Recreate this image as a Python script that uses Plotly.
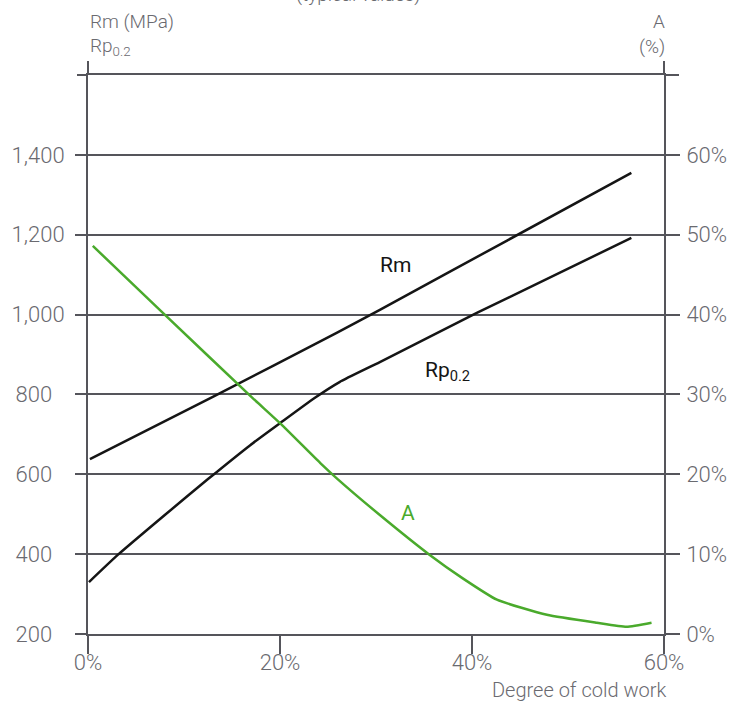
import plotly.graph_objects as go

# ---- data ----
rm_x = [0.2, 13, 25.9, 30.4, 43.7, 56.6]
rm_y = [638, 794, 954, 1012, 1186, 1355]

rp_x = [0.1, 3.1, 8.0, 12.5, 16.9, 20.0, 23.6, 26.2, 30.4, 40.5, 56.6]
rp_y = [330, 398, 498, 588, 673, 728, 791, 831, 881, 1004, 1192]

a_x = [0.5, 7.8, 17.1, 20.0, 24.2, 26.0, 30.4, 35.6, 39.0, 42.6, 47.8, 53.0, 56.1, 58.7]
a_y = [48.6, 40.2, 29.6, 26.4, 21.4, 19.4, 14.9, 9.9, 7.0, 4.3, 2.4, 1.4, 0.9, 1.4]

x_ticks = [0, 20, 40, 60]
x_labels = ["0%", "20%", "40%", "60%"]
y_ticks = [200, 400, 600, 800, 1000, 1200, 1400]
y_labels = ["200", "400", "600", "800", "1,000", "1,200", "1,400"]
y2_ticks = [0, 10, 20, 30, 40, 50, 60]
y2_labels = ["0%", "10%", "20%", "30%", "40%", "50%", "60%"]

LINE = "#55555b"
TXT = "#6a6a70"
GREEN = "#4aaa2c"
BLACK = "#151515"
FONT = "Roboto"

W, H = 729, 705
PL, PR, PT, PB = 88, 664, 75, 634          # plot box in page pixels
PW, PH = PR - PL, PB - PT

def py(p):
    return 1 + (PT - p) / PH

def px(p):
    return (p - PL) / PW

# the reference centres its left tick labels: pad the short ones on the right
FS = "\u2007"   # figure space (digit width)
y_text = [t if len(t) > 3 else t + FS for t in y_labels]

fig = go.Figure()
fig.add_trace(go.Scatter(x=rm_x, y=rm_y, mode="lines", line=dict(color=BLACK, width=2.5, shape="spline", smoothing=0.3),
                         hoverinfo="skip", showlegend=False))
fig.add_trace(go.Scatter(x=rp_x, y=rp_y, mode="lines", line=dict(color=BLACK, width=2.5, shape="spline", smoothing=0.5),
                         hoverinfo="skip", showlegend=False))
fig.add_trace(go.Scatter(x=a_x, y=a_y, mode="lines", yaxis="y2", line=dict(color=GREEN, width=2.5, shape="spline", smoothing=0.5),
                         hoverinfo="skip", showlegend=False))

tickfont = dict(family=FONT, size=22, color=TXT, weight=300)

fig.update_layout(
    width=W, height=H,
    margin=dict(l=PL, r=W - PR, t=PT, b=H - PB, autoexpand=False),
    paper_bgcolor="white", plot_bgcolor="white",
    xaxis=dict(range=[0, 60], tickvals=x_ticks, ticktext=x_labels, ticks="outside", ticklen=18,
               tickwidth=2, tickcolor=LINE, showgrid=False, zeroline=False, showline=True,
               linecolor=LINE, linewidth=2, mirror=True, tickfont=tickfont, ticklabelstandoff=-10),
    yaxis=dict(range=[200, 1600], tickvals=y_ticks, ticktext=y_text, ticks="outside", ticklen=11,
               tickwidth=2, tickcolor=LINE, showgrid=True, gridcolor=LINE, gridwidth=2, zeroline=False,
               showline=True, linecolor=LINE, linewidth=2, mirror=True, tickfont=tickfont,
               ticklabelstandoff=6),
    yaxis2=dict(range=[0, 70], tickvals=y2_ticks, ticktext=y2_labels, overlaying="y", side="right",
                ticks="outside", ticklen=15, tickwidth=2, tickcolor=LINE, showgrid=False, zeroline=False,
                showline=False, tickfont=tickfont, ticklabelstandoff=2),
)

# frame stubs: vertical lines above the top line, top line beyond the side lines
for xv in (0, 1):
    fig.add_shape(type="line", xref="paper", yref="paper", x0=xv, x1=xv, y0=1, y1=py(61),
                  line=dict(color=LINE, width=2))
fig.add_shape(type="line", xref="paper", yref="paper", x0=px(77), x1=0, y0=1, y1=1,
              line=dict(color=LINE, width=2))
fig.add_shape(type="line", xref="paper", yref="paper", x0=1, x1=px(679), y0=1, y1=1,
              line=dict(color=LINE, width=2))

small = dict(family=FONT, size=19, color=TXT, weight=300)
annos = [
    dict(text="(typical values)", x=px(358), y=py(-6), xanchor="center", yanchor="middle", font=small),
    dict(text="Rm (MPa)", x=0, y=py(22), xanchor="left", yanchor="middle", font=small),
    dict(text="Rp<sub>0.2</sub>", x=0, y=py(47), xanchor="left", yanchor="middle", font=small),
    dict(text="A", x=px(667), y=py(22), xanchor="right", yanchor="middle", font=small),
    dict(text="(%)", x=px(667), y=py(47), xanchor="right", yanchor="middle", font=small),
    dict(text="Degree of cold work", x=px(668), y=py(690), xanchor="right", yanchor="middle",
         font=dict(family=FONT, size=20, color=TXT, weight=300)),
]
for a in annos:
    fig.add_annotation(xref="paper", yref="paper", showarrow=False, **a)

fig.add_annotation(text="Rm", x=32.0, y=1124, xref="x", yref="y", showarrow=False,
                   xanchor="center", yanchor="middle", font=dict(family=FONT, size=21, color=BLACK))
fig.add_annotation(text="Rp<sub>0.2</sub>", x=34.9, y=858, xref="x", yref="y", showarrow=False,
                   xanchor="left", yanchor="middle", font=dict(family=FONT, size=21, color=BLACK))
fig.add_annotation(text="A", x=33.3, y=15.2, xref="x", yref="y2", showarrow=False,
                   xanchor="center", yanchor="middle", font=dict(family=FONT, size=21, color=GREEN))

# remove the browser's default 8px page margin so the figure fills the window
fig.write_html("out.html", config={"displayModeBar": False, "staticPlot": True},
               post_script="document.body.style.margin='0px';")
